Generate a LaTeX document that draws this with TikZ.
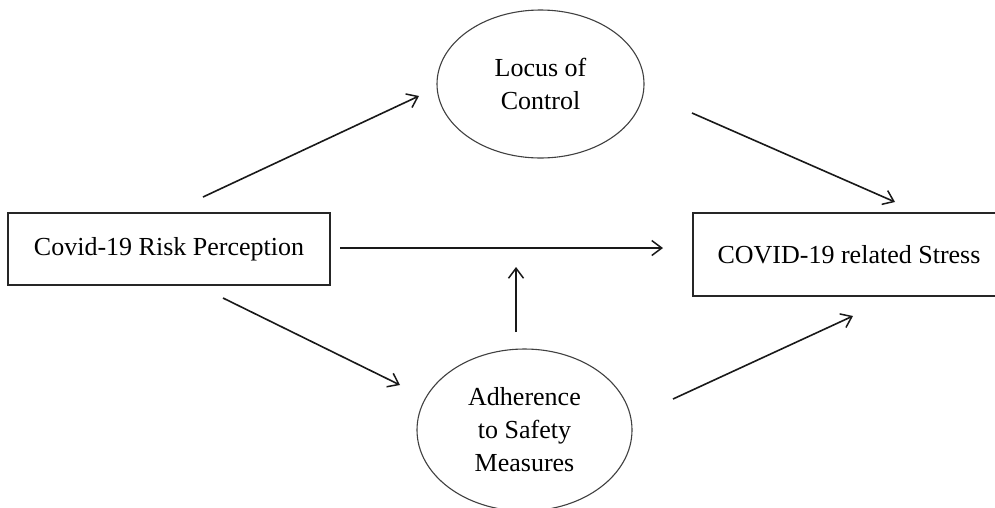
\documentclass[tikz,border=0pt]{standalone}
\usepackage{fontspec}
\setmainfont{Liberation Serif}
\usetikzlibrary{arrows.meta,shapes.geometric}
\begin{document}
\begin{tikzpicture}[x=1pt,y=-1pt,
  every node/.style={font=\fontsize{26}{33}\selectfont, text=black},
  boxnode/.style={draw=black!85, line width=1.5pt, rectangle, inner sep=0pt},
  ovalnode/.style={draw=black!75, line width=1.1pt, ellipse, inner sep=0pt, align=center},
  conn/.style={line width=1.6pt, draw=black!90, -{Straight Barb[length=10pt,width=15pt,line width=1.5pt]}}]
\useasboundingbox (0,0) rectangle (995,507);
\fill[white] (0,0) rectangle (995,507);
\node[boxnode, minimum width=322pt, minimum height=72pt] (risk) at (169,249) {Covid-19 Risk Perception};
\node[boxnode, minimum width=312pt, minimum height=83pt, anchor=west] (stress) at (692,254.5) {};
\node (stresstext) at (849,255) {COVID-19 related Stress};
\node[ovalnode, minimum width=207pt, minimum height=148pt] (locus) at (540.5,84) {Locus of\\Control};
\node[ovalnode, minimum width=215pt, minimum height=162pt] (adh) at (524.5,430) {Adherence\\to Safety\\Measures};
% connector endpoints
\coordinate (a1s) at (203,197); \coordinate (a1e) at (419,96);
\coordinate (a2s) at (692,113); \coordinate (a2e) at (895,202);
\coordinate (a3s) at (340,248); \coordinate (a3e) at (663,248);
\coordinate (a4s) at (516,332); \coordinate (a4e) at (516,267);
\coordinate (a5s) at (223,298); \coordinate (a5e) at (400,385);
\coordinate (a6s) at (673,399); \coordinate (a6e) at (853,316);
\draw[conn] (a1s) -- (a1e);
\draw[conn] (a2s) -- (a2e);
\draw[conn] (a3s) -- (a3e);
\draw[conn] (a4s) -- (a4e);
\draw[conn] (a5s) -- (a5e);
\draw[conn] (a6s) -- (a6e);
\end{tikzpicture}
\end{document}
